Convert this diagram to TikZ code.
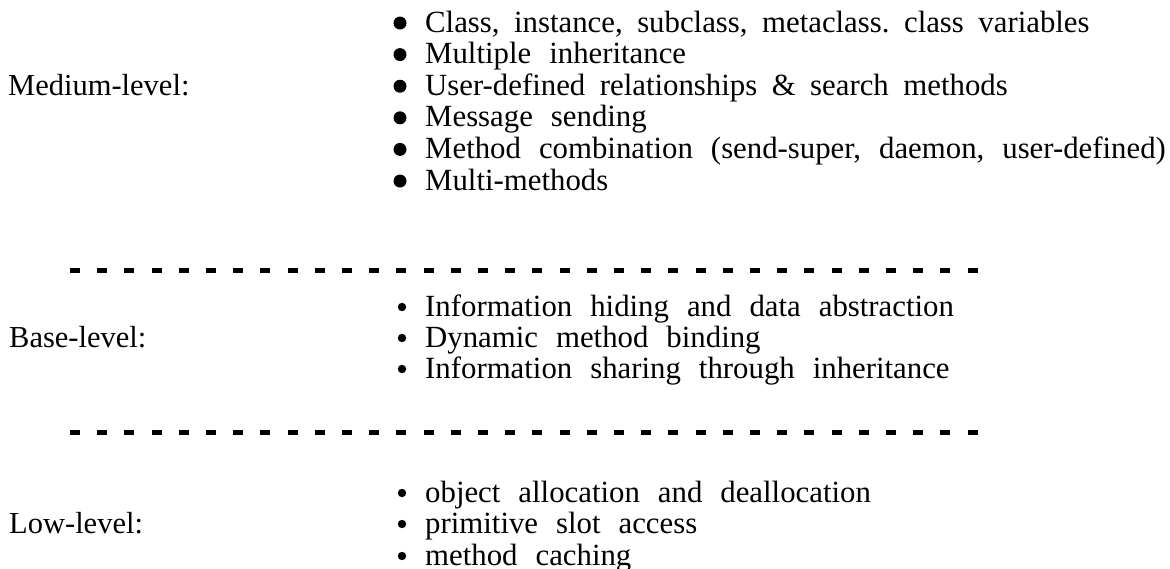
\documentclass[tikz,border=0pt]{standalone}
\usepackage{fontspec}
\setmainfont{Liberation Serif}
\newcommand\wordgap[1]{\frenchspacing\spaceskip=#1pt\relax}
\begin{document}
\begin{tikzpicture}[x=1pt,y=-1pt,
  itemtext/.style={anchor=base west, inner sep=0pt, font=\fontsize{30.8}{31.6}\selectfont\wordgap{18}},
  tightitem/.style={itemtext, font=\fontsize{30.8}{31.6}\selectfont\wordgap{14.5}},
  leveltext/.style={anchor=base west, inner sep=0pt, font=\fontsize{30.5}{31.6}\selectfont},
  bigbullet/.style={fill=black},
  smallbullet/.style={fill=black},
  dashrule/.style={line width=5pt, dash pattern=on 10pt off 17.2pt}]
\useasboundingbox (0,0) rectangle (1170,568);

% Medium-level block
\node[leveltext] (medium) at (8,95) {Medium-level:};
\node[tightitem] (m1) at (425,32) {Class, instance, subclass, metaclass. class variables};
\node[itemtext] (m2) at (425,63.6) {Multiple inheritance};
\node[tightitem] (m3) at (425,95.2) {User-defined relationships \& search methods};
\node[itemtext] (m4) at (425,126.8) {Message sending};
\node[itemtext] (m5) at (425,158.4) {Method combination (send-super, daemon, user-defined)};
\node[itemtext] (m6) at (425,190) {Multi-methods};
\foreach \y in {32,63.6,95.2,126.8,158.4,190}
  \fill[bigbullet] (400,\y-9) circle (6.5);

% separator 1
\coordinate (s1a) at (70,270);
\coordinate (s1b) at (978,270);
\draw[dashrule] (s1a) -- (s1b);

% Base-level block
\node[leveltext] (base) at (9,347) {Base-level:};
\node[itemtext] (b1) at (425,316) {Information hiding and data abstraction};
\node[itemtext] (b2) at (425,347) {Dynamic method binding};
\node[itemtext] (b3) at (425,378) {Information sharing through inheritance};
\foreach \y in {316,347,378}
  \fill[smallbullet] (402,\y-9) circle (4.2);

% separator 2
\coordinate (s2a) at (70,432);
\coordinate (s2b) at (978,432);
\draw[dashrule] (s2a) -- (s2b);

% Low-level block
\node[leveltext] (low) at (9,533) {Low-level:};
\node[itemtext] (l1) at (425,502) {object allocation and deallocation};
\node[itemtext] (l2) at (425,533) {primitive slot access};
\node[itemtext] (l3) at (425,565) {method caching};
\foreach \y in {502,533,565}
  \fill[smallbullet] (402,\y-9) circle (4.2);
\end{tikzpicture}
\end{document}
